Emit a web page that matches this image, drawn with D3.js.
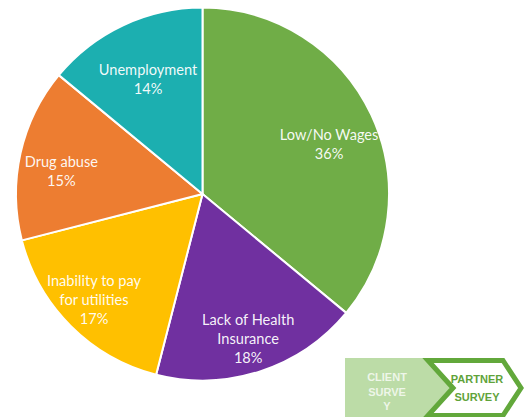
<!DOCTYPE html>
<html>
<head>
<meta charset="utf-8">
<script src="https://cdn.jsdelivr.net/npm/d3@7"></script>
<style>
  html, body { margin: 0; padding: 0; background: #ffffff; }
  svg { display: block; }
</style>
</head>
<body>
<svg id="chart" width="524" height="417"></svg>
<script>
// Causes named, share of responses (%)
const categories = ["Low/No Wages", "Lack of Health Insurance", "Inability to pay for utilities", "Drug abuse", "Unemployment"];
const values = [36, 18, 17, 15, 14];
// How each category label wraps inside its slice
const labelLines = [["Low/No Wages"], ["Lack of Health", "Insurance"], ["Inability to pay", "for utilities"], ["Drug abuse"], ["Unemployment"]];
const palette = ["#70ad47", "#7030a0", "#ffc000", "#ed7d31", "#1cafb0"];

// Survey step tabs
const steps = ["CLIENT SURVEY", "PARTNER SURVEY"];

const svg = d3.select("#chart");
const W = 524, H = 417;
const cx = 202.5, cy = 194, R = 186.5;

const rows = categories.map((c, i) => ({ category: c, value: values[i], lines: labelLines[i], color: palette[i] }));

const pie = d3.pie().sort(null).value(d => d.value).startAngle(0).endAngle(2 * Math.PI);
const arc = d3.arc().innerRadius(0).outerRadius(R);
const arcs = pie(rows);

const g = svg.append("g").attr("transform", `translate(${cx},${cy})`);

g.selectAll("path.slice")
  .data(arcs)
  .join("path")
  .attr("class", "slice")
  .attr("d", arc)
  .attr("fill", d => d.data.color)
  .attr("stroke", "#ffffff")
  .attr("stroke-width", 2)
  .attr("stroke-linejoin", "round");

// label placement: radius from centre and a small angular nudge (degrees)
const labelPlace = [
  { r: 136, nudge: 3.8 },
  { r: 152, nudge: 0.5 },
  { r: 151, nudge: 0.9 },
  { r: 143, nudge: -3.4 },
  { r: 127, nudge: -0.2 }
];
const lineH = 19;

const labels = g.selectAll("g.label")
  .data(arcs)
  .join("g")
  .attr("class", "label")
  .attr("transform", (d, i) => {
    const a = (d.startAngle + d.endAngle) / 2 + labelPlace[i].nudge * Math.PI / 180;
    const lr = labelPlace[i].r;
    return `translate(${lr * Math.sin(a)},${-lr * Math.cos(a)})`;
  });

labels.each(function (d) {
  const lines = d.data.lines.concat([d3.format(".0f")(d.data.value) + "%"]);
  const n = lines.length;
  d3.select(this).selectAll("text")
    .data(lines)
    .join("text")
    .attr("x", 0)
    .attr("y", (t, j) => (j - (n - 1) / 2) * lineH)
    .attr("text-anchor", "middle")
    .attr("dominant-baseline", "central")
    .attr("fill", "#ffffff")
    .attr("fill-opacity", 0.95)
    .style("font-family", "Lato, 'Open Sans', sans-serif")
    .style("font-size", "14.6px")
    .text(t => t);
});

// Survey step tabs at the lower right
const tabTop = 358, tabBot = 418, tabMid = (tabTop + tabBot) / 2;
const tabs = svg.append("g").attr("class", "tabs");

tabs.append("path")
  .attr("d", d3.line()([[345, tabTop], [428, tabTop], [453, tabMid], [428, tabBot], [345, tabBot]]) + "Z")
  .attr("fill", "#bcdca7");

tabs.append("path")
  .attr("d", d3.line()([[428, tabTop + 2.5], [503, tabTop + 2.5], [521, tabMid], [503, tabBot - 2.5], [428, tabBot - 2.5], [453, tabMid]]) + "Z")
  .attr("fill", "#ffffff")
  .attr("stroke", "#62a83b")
  .attr("stroke-width", 5)
  .attr("stroke-linejoin", "miter");

const clientLines = ["CLIENT", "SURVE", "Y"];
tabs.selectAll("text.client")
  .data(clientLines)
  .join("text")
  .attr("class", "client")
  .attr("x", 387)
  .attr("y", (t, j) => 377 + j * 14.5)
  .attr("text-anchor", "middle")
  .attr("dominant-baseline", "central")
  .attr("fill", "#ffffff")
  .attr("fill-opacity", 0.75)
  .style("font-family", "'Liberation Sans', Arial, sans-serif")
  .style("font-weight", "bold")
  .style("font-size", "11px")
  .text(t => t);

const partnerLines = steps[1].split(" ");
tabs.selectAll("text.partner")
  .data(partnerLines)
  .join("text")
  .attr("class", "partner")
  .attr("x", 477)
  .attr("y", (t, j) => 379 + j * 18)
  .attr("text-anchor", "middle")
  .attr("dominant-baseline", "central")
  .attr("fill", "#5fa33a")
  .style("font-family", "'Liberation Sans', Arial, sans-serif")
  .style("font-weight", "bold")
  .style("font-size", "11px")
  .text(t => t);
</script>
</body>
</html>
